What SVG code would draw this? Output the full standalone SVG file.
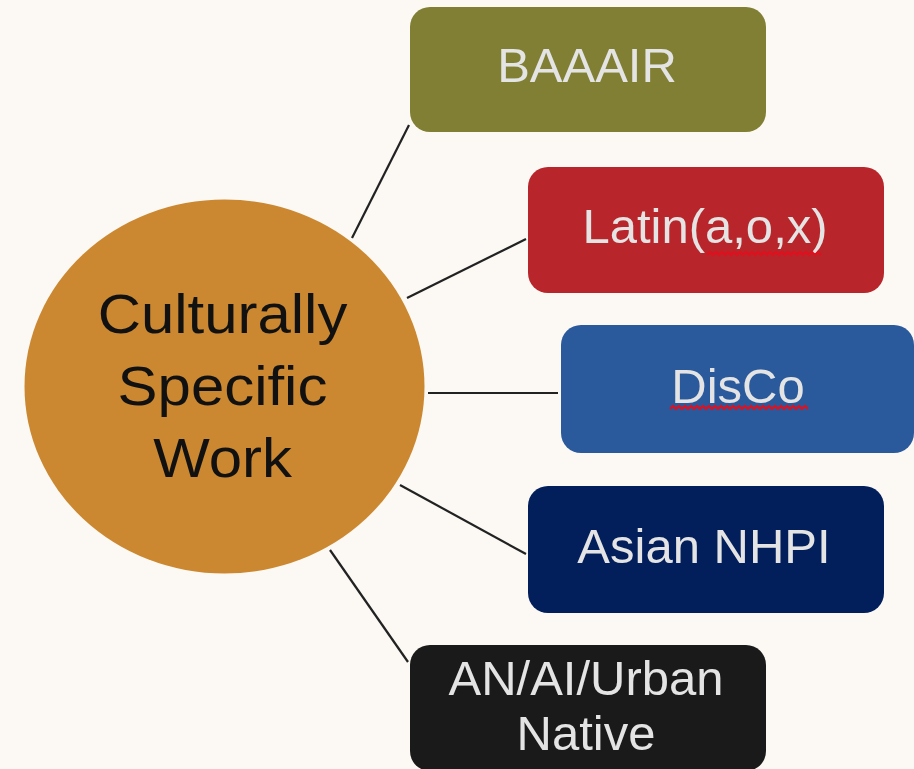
<svg xmlns="http://www.w3.org/2000/svg" width="914" height="769" viewBox="0 0 914 769">
<style>
.box text{font-family:"Liberation Sans",Arial,sans-serif;font-size:49px;fill:#e4e4e4;text-anchor:middle}
.hub text{font-family:"Liberation Sans",Arial,sans-serif;font-size:56px;fill:#111;text-anchor:middle}
.conn line{stroke:#222;stroke-width:2.2}
.squig{fill:none;stroke:#e0101e;stroke-width:2}
</style>
<rect width="914" height="769" fill="#fcf9f4"/>
<g id="connectors" class="conn">
<line x1="352" y1="238" x2="409" y2="125"/>
<line x1="407" y1="298" x2="526" y2="239"/>
<line x1="428" y1="393" x2="558" y2="393" stroke-width="3"/>
<line x1="400" y1="485" x2="526" y2="554"/>
<line x1="330" y1="550" x2="408" y2="662"/>
</g>
<g id="hub" class="hub">
<ellipse cx="224.5" cy="386.5" rx="200" ry="187" fill="#cb8830"/>
<g transform="translate(222.5 0) scale(1.07 1)">
<text x="0" y="333">Culturally</text>
<text x="0" y="405">Specific</text>
<text x="0" y="477">Work</text>
</g>
</g>
<g id="baaair" class="box">
<rect x="410" y="7" width="356" height="125" rx="20" fill="#807f33"/>
<text x="587" y="82">BAAAIR</text>
</g>
<g id="latin" class="box">
<rect x="528" y="167" width="356" height="126" rx="20" fill="#b8252a"/>
<text x="705" y="243">Latin(a,o,x)</text>
<path class="squig" d="M707 255 l3 -3 l3 3 l3 -3 l3 3 l3 -3 l3 3 l3 -3 l3 3 l3 -3 l3 3 l3 -3 l3 3 l3 -3 l3 3 l3 -3 l3 3 l3 -3 l3 3 l3 -3 l3 3 l3 -3 l3 3 l3 -3 l3 3 l3 -3 l3 3 l3 -3 l3 3 l3 -3 l3 3 l3 -3 l3 3 l3 -3 l3 3 l3 -3 l3 3 l3 -3 l3 3"/>
</g>
<g id="disco" class="box">
<rect x="561" y="325" width="353" height="128" rx="20" fill="#2b5a9c"/>
<text x="738" y="403">DisCo</text>
<path class="squig" d="M670 409 l3 -3 l3 3 l3 -3 l3 3 l3 -3 l3 3 l3 -3 l3 3 l3 -3 l3 3 l3 -3 l3 3 l3 -3 l3 3 l3 -3 l3 3 l3 -3 l3 3 l3 -3 l3 3 l3 -3 l3 3 l3 -3 l3 3 l3 -3 l3 3 l3 -3 l3 3 l3 -3 l3 3 l3 -3 l3 3 l3 -3 l3 3 l3 -3 l3 3 l3 -3 l3 3 l3 -3 l3 3 l3 -3 l3 3 l3 -3 l3 3 l3 -3 l3 3"/>
</g>
<g id="asian" class="box">
<rect x="528" y="486" width="356" height="127" rx="20" fill="#021f5c"/>
<text x="704" y="563">Asian NHPI</text>
</g>
<g id="native" class="box">
<rect x="410" y="645" width="356" height="126" rx="20" fill="#1a1a1a"/>
<text x="586" y="695">AN/AI/Urban</text>
<text x="586" y="750">Native</text>
</g>
</svg>
